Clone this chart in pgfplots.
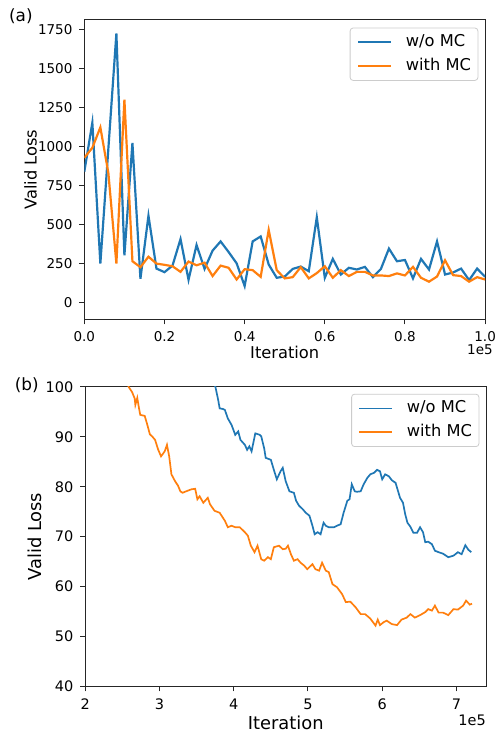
\documentclass[border=0pt]{standalone}
\usepackage{fontspec}
\setmainfont{DejaVu Sans}
\usepackage{pgfplots}
\pgfplotsset{compat=1.18}
\definecolor{mplblue}{HTML}{1F77B4}
\definecolor{mplorange}{HTML}{FF7F0E}

\pgfplotsset{
  mpl/.style={
    scale only axis, width=202pt, height=151pt,
    clip mode=individual,
    axis line style={black!85, line width=0.5pt},
    tick align=outside, major tick length=2.5pt,
    tick style={black!85, line width=0.5pt},
    xtick pos=left, ytick pos=left,
    /pgf/number format/assume math mode=true,
    /pgf/number format/1000 sep={},
    legend cell align=left,
    legend image code/.code={\draw[##1] (0pt,0pt) -- (16.5pt,0pt);},
    legend style={draw=black!20, rounded corners=1.5pt, fill=white,
      font=\fontsize{8.2}{9}\selectfont, inner xsep=3.5pt, inner ysep=3.3pt,
      nodes={inner sep=0pt, text height=6pt, text depth=1.8pt},
      column sep=7pt, row sep=4.2pt},
  },
}

\begin{document}
\begin{tikzpicture}[x=1pt,y=1pt]
\fill[white] (0,0) rectangle (249.5,368);

% (a) whole run
\begin{axis}[mpl, at={(42.5pt,207pt)}, anchor=south west,
  xmin=0, xmax=1, ymin=-108, ymax=1812,
  xtick={0,0.2,0.4,0.6,0.8,1}, ytick={0,250,500,750,1000,1250,1500,1750},
  xticklabel style={/pgf/number format/.cd, fixed, fixed zerofill, precision=1},
  ticklabel style={font=\fontsize{6.8}{8}\selectfont},
  xlabel={Iteration}, ylabel={Valid Loss},
  label style={font=\fontsize{8.2}{9}\selectfont},
  xlabel style={at={(rel axis cs:0.5,-0.109)}, anchor=center},
  ylabel style={at={(rel axis cs:-0.134,0.5)}, anchor=center},
  legend style={at={(rel axis cs:0.983,0.974)}, anchor=north east},
]
\addplot[mplblue, line width=1.1pt] coordinates {
(0,839) (0.02,1153) (0.04,250) (0.06,988) (0.08,1725) (0.10,303) (0.12,1023)
(0.14,153) (0.16,557) (0.18,218) (0.20,195) (0.22,237) (0.24,407) (0.26,146)
(0.28,369) (0.30,216) (0.32,333) (0.34,392) (0.36,324) (0.38,252) (0.40,106)
(0.42,392) (0.44,424) (0.46,244) (0.48,159) (0.50,167) (0.52,216) (0.54,231)
(0.56,201) (0.58,547) (0.60,159) (0.62,280) (0.64,180) (0.66,223) (0.68,212)
(0.70,229) (0.72,163) (0.74,216) (0.76,346) (0.78,265) (0.80,273) (0.82,155)
(0.84,280) (0.86,212) (0.88,392) (0.90,180) (0.92,193) (0.94,218) (0.96,144)
(0.98,218) (1.00,165)
};
\addlegendentry{w/o MC}
\addplot[mplorange, line width=1.1pt] coordinates {
(0,928) (0.02,992) (0.04,1123) (0.06,830) (0.08,250) (0.10,1301) (0.12,265)
(0.14,227) (0.16,294) (0.18,250) (0.20,242) (0.22,233) (0.24,197) (0.26,263)
(0.28,239) (0.30,256) (0.32,170) (0.34,237) (0.36,223) (0.38,148) (0.40,214)
(0.42,208) (0.44,165) (0.46,466) (0.48,208) (0.50,155) (0.52,163) (0.54,227)
(0.56,155) (0.58,189) (0.60,233) (0.62,159) (0.64,208) (0.66,170) (0.68,197)
(0.70,197) (0.72,174) (0.74,174) (0.76,170) (0.78,187) (0.80,174) (0.82,229)
(0.84,159) (0.86,134) (0.88,167) (0.90,271) (0.92,176) (0.94,170) (0.96,134)
(0.98,163) (1.00,148)
};
\addlegendentry{with MC}
\node[anchor=north east, font=\fontsize{6.8}{8}\selectfont, inner sep=0pt,
  xshift=4pt, yshift=-12.5pt] at (rel axis cs:1,0) {1e5};
\end{axis}

% (b) later part
\begin{axis}[mpl, at={(43pt,22pt)}, anchor=south west,
  xmin=2, xmax=7.4, ymin=40, ymax=100,
  xtick={2,3,4,5,6,7}, ytick={40,50,60,70,80,90,100},
  ticklabel style={font=\fontsize{7.3}{8.5}\selectfont},
  xlabel={Iteration}, ylabel={Valid Loss},
  label style={font=\fontsize{9}{10}\selectfont},
  xlabel style={at={(rel axis cs:0.5,-0.12)}, anchor=center},
  ylabel style={at={(rel axis cs:-0.126,0.5)}, anchor=center},
  legend style={at={(rel axis cs:0.983,0.977)}, anchor=north east},
]
\addplot[mplblue, line width=0.85pt] coordinates {
(2.00,163) (3.00,127) (3.50,109) (3.753,100) (3.79,97.4) (3.81,95.7) (3.85,95.6)
(3.88,95.4) (3.92,93.7) (3.97,92.4) (4.02,90.4) (4.06,91.1) (4.09,89.4)
(4.15,88.4) (4.18,87.4) (4.21,88.1) (4.24,87.1) (4.29,90.7) (4.35,90.4)
(4.37,90.1) (4.41,87.7) (4.43,85.8) (4.50,85.4) (4.54,83.4) (4.58,81.5)
(4.63,83.1) (4.66,83.8) (4.70,81.1) (4.75,79.1) (4.81,78.8) (4.84,77.2)
(4.88,76.2) (4.93,75.5) (4.97,74.8) (5.02,74.2) (5.06,72.2) (5.09,70.5)
(5.13,70.9) (5.17,70.5) (5.21,72.8) (5.24,72.2) (5.28,71.9) (5.35,71.9)
(5.39,72.2) (5.44,72.5) (5.48,74.8) (5.53,77.2) (5.56,77.5) (5.59,80.5)
(5.63,79.1) (5.66,79.0) (5.71,79.1) (5.75,80.5) (5.80,81.8) (5.84,82.5)
(5.89,82.8) (5.93,83.4) (5.97,83.1) (6.00,81.5) (6.04,82.5) (6.09,82.1)
(6.13,81.3) (6.18,80.8) (6.20,79.8) (6.24,77.8) (6.28,76.8) (6.31,74.5)
(6.34,72.8) (6.38,72.0) (6.42,70.8) (6.47,70.8) (6.51,71.9) (6.55,70.9)
(6.58,68.9) (6.62,69.0) (6.67,68.5) (6.71,67.2) (6.76,66.9) (6.82,66.6)
(6.89,65.9) (6.96,66.2) (7.02,66.9) (7.07,66.5) (7.12,68.3) (7.16,67.4)
(7.20,66.9)
};
\addlegendentry{w/o MC}
\addplot[mplorange, line width=0.85pt] coordinates {
(2.00,125) (2.30,112) (2.584,100) (2.629,99.0) (2.665,97.7) (2.674,96.4)
(2.70,97.8) (2.72,96.0) (2.74,94.4) (2.80,94.2) (2.83,92.7) (2.87,90.5)
(2.90,90.1) (2.94,89.4) (2.98,87.5) (3.02,86.1) (3.07,87.1) (3.10,88.4)
(3.13,86.1) (3.16,82.5) (3.21,81.1) (3.25,80.2) (3.28,79.1) (3.31,78.8)
(3.36,79.1) (3.43,79.5) (3.48,79.6) (3.51,77.5) (3.54,78.1) (3.59,76.8)
(3.65,77.8) (3.68,76.5) (3.74,75.2) (3.81,74.8) (3.88,73.2) (3.92,71.9)
(3.97,72.2) (4.02,71.9) (4.08,71.9) (4.15,70.9) (4.19,70.2) (4.23,68.2)
(4.28,66.9) (4.32,68.2) (4.37,65.5) (4.41,65.2) (4.46,65.9) (4.50,65.5)
(4.54,67.9) (4.61,68.2) (4.66,67.5) (4.70,67.6) (4.73,68.2) (4.77,66.5)
(4.81,65.2) (4.86,65.5) (4.90,64.8) (4.95,64.2) (4.99,63.5) (5.06,64.5)
(5.10,63.5) (5.15,63.2) (5.19,64.8) (5.24,63.2) (5.28,62.9) (5.33,60.5)
(5.39,59.9) (5.46,58.5) (5.51,56.9) (5.57,57.0) (5.64,55.9) (5.71,54.5)
(5.77,54.5) (5.84,53.6) (5.91,52.2) (5.94,53.4) (5.97,52.3) (6.02,52.9)
(6.06,53.2) (6.13,52.5) (6.20,52.3) (6.26,53.4) (6.33,53.8) (6.38,54.5)
(6.44,53.8) (6.51,54.3) (6.58,54.9) (6.62,55.5) (6.67,55.2) (6.71,56.2)
(6.76,54.8) (6.82,54.8) (6.89,54.3) (6.96,55.5) (7.02,55.4) (7.09,56.2)
(7.13,57.2) (7.18,56.4) (7.21,56.6)
};
\addlegendentry{with MC}
\node[anchor=north east, font=\fontsize{7.3}{8.5}\selectfont, inner sep=0pt,
  yshift=-14pt] at (rel axis cs:1,0) {1e5};
\end{axis}

\node[font=\fontsize{8.5}{10}\selectfont] at (10.5,360) {(a)};
\node[font=\fontsize{8.5}{10}\selectfont] at (13.5,174) {(b)};
\end{tikzpicture}
\end{document}
